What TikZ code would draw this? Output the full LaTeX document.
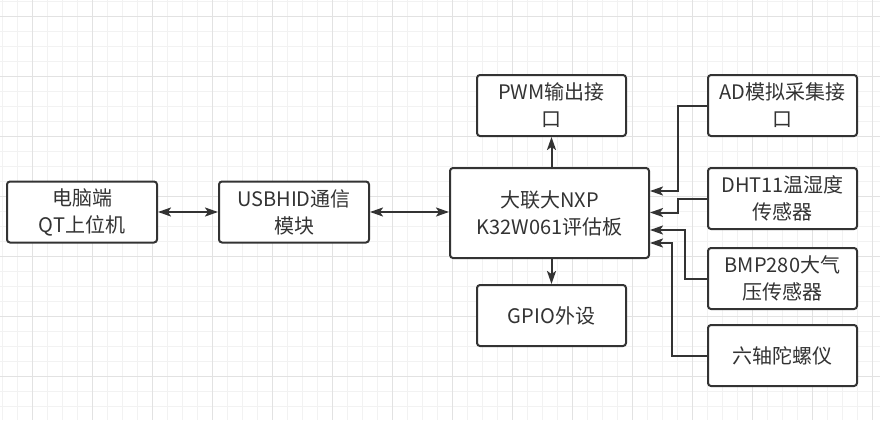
\documentclass[tikz,border=0pt]{standalone}
\usepackage{fontspec}
\setmainfont{Noto Sans CJK SC}
\usetikzlibrary{arrows.meta}
\definecolor{ink}{HTML}{333333}
\definecolor{gridminor}{HTML}{F2F2F2}
\definecolor{gridmajor}{HTML}{E2E2E2}
\begin{document}
\begin{tikzpicture}[x=1pt,y=-1pt,
  tip/.tip={Stealth[inset=3pt,length=13pt,width=9pt]},
  blk/.style={draw=ink, line width=2pt, rounded corners=3pt, fill=white, text=ink,
    font=\fontsize{20}{27}\selectfont, align=center, inner sep=0pt,
    minimum width=149pt, minimum height=61pt},
  conn/.style={draw=ink, line width=2pt, -tip},
  bconn/.style={draw=ink, line width=2pt, tip-tip}]
\useasboundingbox (0,0) rectangle (880,420);
\fill[white] (0,0) rectangle (880,420);
% grid
\foreach \i in {0,...,58} {\draw[gridminor, line width=0.8pt] ({2.3+15*\i},0) -- ({2.3+15*\i},420);}
\foreach \i in {0,...,28} {\draw[gridminor, line width=0.8pt] (0,{1+15*\i}) -- (880,{1+15*\i});}
\foreach \i in {0,...,14} {\draw[gridmajor, line width=0.8pt] ({32.3+60*\i},0) -- ({32.3+60*\i},420);}
\foreach \i in {0,...,7} {\draw[gridmajor, line width=0.8pt] (0,{16+60*\i}) -- (880,{16+60*\i});}
% nodes
\node[blk, minimum width=150pt] (pc) at (82,212) {电脑端\\QT上位机};
\node[blk, minimum width=150pt] (usb) at (294,212) {USBHID通信\\模块};
\node[blk, minimum width=199pt, minimum height=90pt] (main) at (549.5,213) {大联大NXP\\K32W061评估板};
\node[blk] (pwm) at (551.5,105.5) {PWM输出接\\口};
\node[blk] (gpio) at (551.5,315.5) {GPIO外设};
\node[blk] (ad) at (782.5,105.5) {AD模拟采集接\\口};
\node[blk] (dht) at (782.5,198.5) {DHT11温湿度\\传感器};
\node[blk] (bmp) at (782.5,278.5) {BMP280大气\\压传感器};
\node[blk] (six) at (782.5,355.5) {六轴陀螺仪};
% connectors
\draw[bconn] (pc.east) -- (usb.west);
\draw[bconn] (usb.east) -- (main.west |- usb.east);
\draw[conn] (pwm.south |- main.north) -- (pwm.south);
\draw[conn] (gpio.north |- main.south) -- (gpio.north);
\draw[conn] (ad.west) -| (678,191) -- (main.east |- 0,191);
\draw[conn] (dht.west) -| (678,212.5) -- (main.east |- 0,212.5);
\draw[conn] (bmp.west) -| (685,230) -- (main.east |- 0,230);
\draw[conn] (six.west) -| (672,243) -- (main.east |- 0,243);
\end{tikzpicture}
\end{document}
